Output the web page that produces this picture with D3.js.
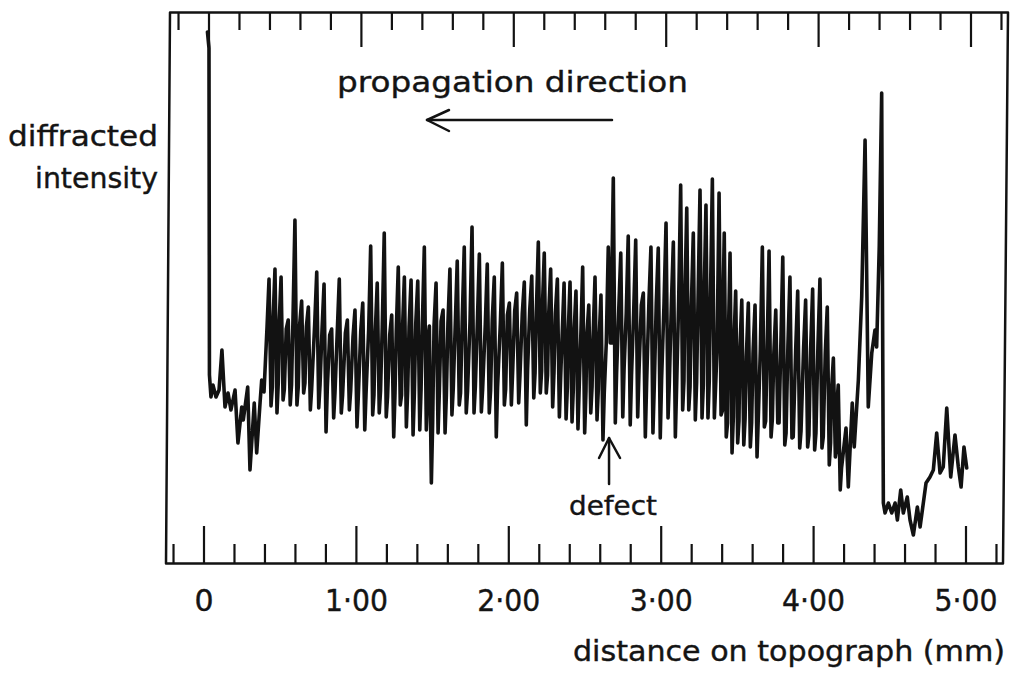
<!DOCTYPE html>
<html>
<head>
<meta charset="utf-8">
<script src="https://cdn.jsdelivr.net/npm/d3@7"></script>
<style>
  body { margin: 0; background: #fff; }
  text { font-family: "DejaVu Sans", sans-serif; fill: #141414; stroke: #141414; stroke-width: 0.4px; }
</style>
</head>
<body>
<svg id="chart" width="1014" height="678"></svg>
<script>
// distance on topograph (mm), diffracted intensity in arbitrary units

// start of the trace, before the fringes
const leadDistance = [
  0.026, 0.036, 0.039, 0.049, 0.062, 0.082, 0.102, 0.121, 0.141, 0.161,
  0.180, 0.207, 0.226, 0.251, 0.261, 0.290, 0.305, 0.333, 0.349, 0.371,
  0.382, 0.397
]
const leadIntensity = [
  531, 515, 188, 166, 178, 166, 173, 213, 156, 170,
  153, 173, 120, 156, 143, 176, 93, 160, 110, 160,
  183, 171
]

// pendellosung fringes: position, max, min, and the dark band the pen crosses between them
const fringeDistance = [
  0.430, 0.469, 0.509, 0.556, 0.600, 0.644, 0.688, 0.743, 0.791,
  0.841, 0.891, 0.944, 0.994, 1.045, 1.097, 1.140, 1.186, 1.235, 1.278, 1.318,
  1.362, 1.406, 1.449, 1.482, 1.526, 1.572, 1.617, 1.665, 1.711,
  1.762, 1.810, 1.862, 1.908, 1.961,
  2.007, 2.055, 2.105, 2.154, 2.197, 2.236, 2.278, 2.322,
  2.366, 2.405, 2.444, 2.488, 2.528, 2.569, 2.608,
  2.656,
  2.689, 2.738, 2.787, 2.836,
  2.886, 2.936, 2.984,
  3.035, 3.083, 3.131, 3.171, 3.214, 3.258, 3.297, 3.339,
  3.383, 3.417, 3.455, 3.492, 3.532, 3.575, 3.619, 3.667, 3.711, 3.755,
  3.801, 3.848, 3.899, 3.951, 3.997, 4.045, 4.093,
  4.133, 4.165
]
const fringeMax = [
  284, 294, 286, 243, 343, 262, 256, 291, 279,
  234, 284, 243, 253, 260, 317, 280, 330, 248, 296, 286,
  283, 282, 316, 237, 280, 253, 294, 302, 316,
  336, 309, 299, 286, 300,
  260, 270, 281, 287, 321, 310, 294, 284,
  280, 281, 272, 296, 258, 286, 268,
  316,
  385, 310, 327, 323,
  270, 316, 315,
  340, 321, 378, 355, 330, 373, 358, 384,
  370, 330, 310, 272, 263, 260, 258, 316, 312, 253,
  306, 286, 272, 263, 274, 284, 256,
  205, 178
]
const fringeMin = [
  157, 150, 163, 158, 158, 170, 153, 155, 131,
  145, 150, 153, 136, 133, 148, 150, 146, 126, 158, 136,
  128, 133, 133, 80, 130, 130, 148, 158, 150,
  150, 151, 150, 126, 158,
  158, 160, 138, 165, 170, 170, 156, 146,
  144, 141, 134, 130, 150, 143, 123,
  220,
  140, 146, 138, 146,
  126, 130, 125,
  145, 126, 153, 153, 143, 145, 145, 145,
  148, 126, 110, 120, 118, 116, 106, 136, 126, 140,
  118, 125, 115, 116, 113, 115, 98,
  106, 73
]
const bandUpper = [
  236, 240, 238, 234, 242, 238, 236, 240, 234,
  228, 232, 230, 226, 232, 234, 230, 236, 228, 232, 230,
  236, 240, 238, 220, 238, 242, 240, 238, 244,
  242, 240, 238, 244, 240,
  248, 252, 250, 254, 250, 252, 248, 250,
  226, 224, 228, 222, 226, 224, 220,
  220,
  252, 254, 250, 252,
  258, 262, 260,
  260, 258, 262, 260, 256, 262, 258, 260,
  215, 210, 208, 212, 210, 206, 210, 214, 210, 208,
  215, 218, 214, 216, 214, 218, 210,
  170, 150
]
const bandLower = [
  176, 180, 174, 178, 176, 180, 174, 178, 176,
  170, 168, 172, 166, 170, 168, 172, 166, 170, 168, 172,
  170, 174, 168, 140, 172, 168, 174, 170, 172,
  176, 174, 172, 176, 174,
  192, 188, 194, 190, 192, 188, 190, 186,
  176, 174, 178, 172, 176, 174, 170,
  220,
  190, 194, 188, 192,
  180, 176, 182,
  180, 178, 182, 176, 180, 178, 182, 178,
  152, 140, 146, 142, 144, 140, 146, 142, 144, 140,
  130, 126, 132, 128, 130, 126, 120,
  115, 95
]

// end of the trace: the two big peaks and the low tail
const tailDistance = [
  4.216, 4.231, 4.257, 4.270, 4.297, 4.319, 4.341, 4.362, 4.385, 4.406,
  4.417, 4.434, 4.450, 4.461, 4.472, 4.494, 4.516, 4.538, 4.553, 4.575,
  4.592, 4.618, 4.636, 4.658, 4.684, 4.702, 4.741, 4.767, 4.789, 4.811,
  4.833, 4.854, 4.877, 4.903, 4.931, 4.953, 4.971, 4.990, 5.008
]
const tailIntensity = [
  135, 76, 160, 116, 183, 266, 423, 156, 210, 233,
  216, 316, 470, 60, 50, 60, 50, 60, 43, 73,
  50, 66, 43, 28, 56, 36, 80, 86, 93, 130,
  90, 96, 155, 86, 128, 96, 76, 116, 95
]

const majorTicks = [0, 1, 2, 3, 4, 5]
const tickLabels = ["0", "1·00", "2·00", "3·00", "4·00", "5·00"]
const minorTicks = [-0.2, 0.2, 0.4, 0.6, 0.8, 1.2, 1.4, 1.6, 1.8, 2.2, 2.4, 2.6, 2.8,
                    3.2, 3.4, 3.6, 3.8, 4.2, 4.4, 4.6, 4.8, 5.2]
const defectAt = 2.661

const svg = d3.select('#chart')
const ink = '#121212'

let x = d3.scaleLinear().domain([0, 5]).range([203.5, 965.5])
let y = d3.scaleLinear().domain([0, 550]).range([563, 13])

// build the pen trace; dx is the small pen shift (px) inside one fringe stroke
let trace = []
leadDistance.forEach((d, i) => trace.push({ d: d, v: leadIntensity[i], dx: 0 }))
fringeDistance.forEach((d, i) => {
  trace.push({ d: d, v: bandUpper[i], dx: -2 })
  trace.push({ d: d, v: fringeMax[i], dx: 0 })
  trace.push({ d: d, v: fringeMin[i], dx: 2 })
  trace.push({ d: d, v: bandLower[i], dx: 3.3 })
})
tailDistance.forEach((d, i) => trace.push({ d: d, v: tailIntensity[i], dx: 0 }))

// frame (slightly skewed like the original drawing)
svg.append('polygon')
  .attr('points', '170,12.5 1008,12.5 1003,563.5 166,563.5')
  .attr('fill', 'none').attr('stroke', ink).attr('stroke-width', 2.5)
  .attr('stroke-linejoin', 'round')

// bottom ticks (pointing in)
svg.append('g').attr('class', 'axis')
  .attr('transform', 'translate(0,564)')
  .call(d3.axisBottom(x).tickValues(minorTicks).tickSize(-20).tickFormat(''))
svg.append('g').attr('class', 'axis major')
  .attr('transform', 'translate(0,564)')
  .call(d3.axisBottom(x).tickValues(majorTicks).tickSize(-38).tickPadding(26)
    .tickFormat((d, i) => tickLabels[i]))

// top ticks
svg.append('g').attr('class', 'axis')
  .attr('transform', 'translate(5,12)')
  .call(d3.axisTop(x).tickValues(minorTicks).tickSize(-18).tickFormat(''))
svg.append('g').attr('class', 'axis')
  .attr('transform', 'translate(5,12)')
  .call(d3.axisTop(x).tickValues(majorTicks).tickSize(-35).tickFormat(''))

svg.selectAll('.axis .domain').remove()
svg.selectAll('.axis line').attr('stroke', ink).attr('stroke-width', 2.2)
svg.selectAll('.axis.major text')
  .attr('font-size', 30).attr('fill', ink)
  .style('font-family', '"DejaVu Sans", sans-serif')
  .attr('textLength', (d, i) => i === 0 ? null : 63)
  .attr('lengthAdjust', 'spacingAndGlyphs')

// trace
let line = d3.line()
  .x(p => x(p.d) + p.dx)
  .y(p => y(p.v))

svg.append('path')
  .datum(trace)
  .attr('d', line)
  .attr('fill', 'none')
  .attr('stroke', ink)
  .attr('stroke-width', 3.6)
  .attr('stroke-linejoin', 'round')
  .attr('stroke-linecap', 'round')

// labels
svg.append('text').attr('x', 158).attr('y', 146).attr('text-anchor', 'end')
  .attr('font-size', 29).attr('textLength', 150).attr('lengthAdjust', 'spacingAndGlyphs')
  .text('diffracted')
svg.append('text').attr('x', 158).attr('y', 188).attr('text-anchor', 'end')
  .attr('font-size', 29).attr('textLength', 123).attr('lengthAdjust', 'spacingAndGlyphs')
  .text('intensity')

svg.append('text').attr('x', 337).attr('y', 92)
  .attr('font-size', 29).attr('textLength', 351).attr('lengthAdjust', 'spacingAndGlyphs')
  .text('propagation  direction')

svg.append('text').attr('x', 1005).attr('y', 661).attr('text-anchor', 'end')
  .attr('font-size', 29).attr('textLength', 432).attr('lengthAdjust', 'spacingAndGlyphs')
  .text('distance on topograph (mm)')

svg.append('text').attr('x', 613).attr('y', 515).attr('text-anchor', 'middle')
  .attr('font-size', 27).attr('textLength', 88).attr('lengthAdjust', 'spacingAndGlyphs')
  .text('defect')

// propagation arrow
let arrow = svg.append('g').attr('fill', 'none').attr('stroke', ink)
  .attr('stroke-width', 2.5).attr('stroke-linecap', 'round').attr('stroke-linejoin', 'round')
arrow.append('line').attr('x1', 612).attr('y1', 120).attr('x2', 427).attr('y2', 120)
arrow.append('polyline').attr('points', '449,110 427,120 449,131')

// defect arrow
let dx = x(defectAt)
arrow.append('line').attr('x1', dx).attr('y1', y(125)).attr('x2', dx).attr('y2', y(79))
arrow.append('polyline')
  .attr('points', `${dx - 10},${y(105)} ${dx},${y(125)} ${dx + 11},${y(105)}`)
</script>
</body>
</html>
